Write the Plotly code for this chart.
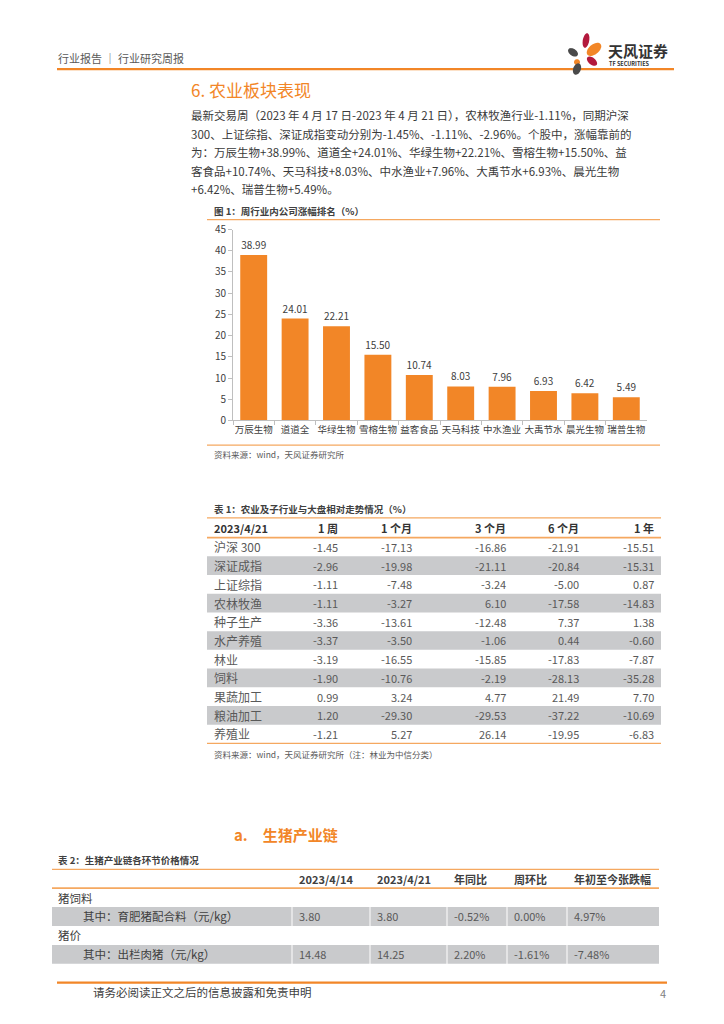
import plotly.graph_objects as go
import numpy as np

W, H = 724, 1024
ORANGE = "#F28627"
LINE_OR = "#F5A860"
GRAY_ROW = "#C9CACC"
FONT = "Noto Sans CJK SC"

def px(x):
    return x / W

def py(y):
    return 1 - y / H

# ---------------- data ----------------
companies = ["万辰生物", "道道全", "华绿生物", "雪榕生物", "益客食品",
             "天马科技", "中水渔业", "大禹节水", "晨光生物", "瑞普生物"]
gains = [38.99, 24.01, 22.21, 15.50, 10.74, 8.03, 7.96, 6.93, 6.42, 5.49]

t1_header = ["2023/4/21", "1 周", "1 个月", "3 个月", "6 个月", "1 年"]
t1_rows = ["沪深 300", "深证成指", "上证综指", "农林牧渔", "种子生产", "水产养殖",
           "林业", "饲料", "果蔬加工", "粮油加工", "养殖业"]
t1_week = [-1.45, -2.96, -1.11, -1.11, -3.36, -3.37, -3.19, -1.90, 0.99, 1.20, -1.21]
t1_m1 = [-17.13, -19.98, -7.48, -3.27, -13.61, -3.50, -16.55, -10.76, 3.24, -29.30, 5.27]
t1_m3 = [-16.86, -21.11, -3.24, 6.10, -12.48, -1.06, -15.85, -2.19, 4.77, -29.53, 26.14]
t1_m6 = [-21.91, -20.84, -5.00, -17.58, 7.37, 0.44, -17.83, -28.13, 21.49, -37.22, -19.95]
t1_y1 = [-15.51, -15.31, 0.87, -14.83, 1.38, -0.60, -7.87, -35.28, 7.70, -10.69, -6.83]

t2_header = ["", "2023/4/14", "2023/4/21", "年同比", "周环比", "年初至今张跌幅"]
t2_rows = ["猪饲料", "其中：育肥猪配合料（元/kg）", "猪价", "其中：出栏肉猪（元/kg）"]
t2_indent = [False, True, False, True]
t2_p0414 = [None, 3.80, None, 14.48]
t2_p0421 = [None, 3.80, None, 14.25]
t2_yoy = [None, -0.52, None, 2.20]
t2_wow = [None, 0.00, None, -1.61]
t2_ytd = [None, 4.97, None, -7.48]

paragraph = [
    "最新交易周（2023 年 4 月 17 日-2023 年 4 月 21 日），农林牧渔行业-1.11%，同期沪深",
    "300、上证综指、深证成指变动分别为-1.45%、-1.11%、-2.96%。个股中，涨幅靠前的",
    "为：万辰生物+38.99%、道道全+24.01%、华绿生物+22.21%、雪榕生物+15.50%、益",
    "客食品+10.74%、天马科技+8.03%、中水渔业+7.96%、大禹节水+6.93%、晨光生物",
    "+6.42%、瑞普生物+5.49%。",
]

def fmt(v, pct=False):
    if v is None:
        return ""
    return f"{v:.2f}%" if pct else f"{v:.2f}"

# ---------------- figure ----------------
fig = go.Figure()

fig.add_trace(go.Bar(
    x=companies, y=gains,
    marker=dict(color=ORANGE, line=dict(width=0)),
    text=[f"{v:.2f}" for v in gains],
    textposition="outside",
    textfont=dict(size=10, color="#404040", family=FONT),
    cliponaxis=False,
    hoverinfo="skip",
))

shapes = []
annotations = []

def hline(y, x0, x1, color=LINE_OR, width=1.3):
    shapes.append(dict(type="line", xref="paper", yref="paper",
                       x0=px(x0), x1=px(x1), y0=py(y), y1=py(y),
                       line=dict(color=color, width=width)))

def rect(x0, x1, y0, y1, color):
    shapes.append(dict(type="rect", xref="paper", yref="paper", layer="below",
                       x0=px(x0), x1=px(x1), y0=py(y0), y1=py(y1),
                       fillcolor=color, line=dict(width=0)))

def txt(x, y, s, size, color="#404040", bold=False, anchor="left"):
    annotations.append(dict(
        xref="paper", yref="paper", x=px(x), y=py(y),
        text=f"<b>{s}</b>" if bold else s, showarrow=False,
        xanchor=anchor, yanchor="middle", borderpad=0,
        font=dict(size=size, color=color, family=FONT),
    ))

# ---------- Table 1 (built from the lists) ----------
T1_X0, T1_X1 = 207, 661
T1_TOP, T1_HEAD_H, T1_ROW_H = 517, 20, 19
t1_label_x = 213
t1_col_right = [339, 413, 507, 580, 655]
t1_cols = [t1_week, t1_m1, t1_m3, t1_m6, t1_y1]

head_y = T1_TOP + T1_HEAD_H / 2
txt(t1_label_x, head_y, t1_header[0], 11, "#333333", bold=True)
for h, xr in zip(t1_header[1:], t1_col_right):
    txt(xr, head_y, h, 11, "#333333", bold=True, anchor="right")

body_top = T1_TOP + T1_HEAD_H
for i, name in enumerate(t1_rows):
    y0 = body_top + i * T1_ROW_H
    if i % 2 == 1:
        rect(T1_X0, T1_X1, y0, y0 + T1_ROW_H, GRAY_ROW)
    yc = y0 + T1_ROW_H / 2
    txt(t1_label_x, yc, name, 12, "#595959")
    for col, xr in zip(t1_cols, t1_col_right):
        txt(xr, yc, fmt(col[i]), 11, "#595959", anchor="right")
t1_bottom = body_top + len(t1_rows) * T1_ROW_H

# ---------- Table 2 ----------
T2_X0, T2_X1 = 52, 659
T2_TOP, T2_HEAD_H, T2_ROW_H = 874, 19, 19.25
t2_col_edges = [T2_X0, 292, 370, 447, 507, 567, T2_X1]
t2_cols = [[fmt(v) for v in t2_p0414], [fmt(v) for v in t2_p0421],
           [fmt(v, True) for v in t2_yoy], [fmt(v, True) for v in t2_wow],
           [fmt(v, True) for v in t2_ytd]]

head2_y = T2_TOP + T2_HEAD_H / 2
for j, h in enumerate(t2_header):
    if h:
        txt(t2_col_edges[j] + 6, head2_y, h, 11, "#404040", bold=True)

body2_top = T2_TOP + T2_HEAD_H
for i, (name, ind) in enumerate(zip(t2_rows, t2_indent)):
    y0 = body2_top + i * T2_ROW_H
    yc = y0 + T2_ROW_H / 2
    if ind:
        for j in range(len(t2_col_edges) - 1):
            rect(t2_col_edges[j] + (0.5 if j else 0),
                 t2_col_edges[j + 1] - (0.5 if j < len(t2_col_edges) - 2 else 0),
                 y0, y0 + T2_ROW_H, GRAY_ROW)
    txt(82 if ind else 57, yc, name, 11.5, "#404040")
    for j, col in enumerate(t2_cols):
        txt(t2_col_edges[j + 1] + 6, yc, col[i], 11, "#595959")

# ---------------- rules ----------------
hline(61, 57, 674, ORANGE, 2.2)       # page header
hline(214, 207, 660)                  # chart top
hline(443, 207, 660)                  # chart bottom
hline(T1_TOP, T1_X0, T1_X1)           # table1 top
hline(body_top, T1_X0, T1_X1, LINE_OR, 1.8)
hline(t1_bottom, T1_X0, T1_X1)        # table1 bottom
hline(T2_TOP, T2_X0, T2_X1)           # table2 top
hline(body2_top, T2_X0, T2_X1, LINE_OR, 1.8)
hline(989, 57, 667, ORANGE, 2.2)      # footer

# ---------------- logo ----------------
def petal(cx, cy, a, b, ang, color):
    t = np.linspace(0, 2 * np.pi, 40)
    c, s = np.cos(np.radians(ang)), np.sin(np.radians(ang))
    xs = cx + a * np.cos(t) * c - b * np.sin(t) * s
    ys = cy + a * np.cos(t) * s + b * np.sin(t) * c
    path = "M " + " L ".join(f"{px(x):.5f},{py(y):.5f}" for x, y in zip(xs, ys)) + " Z"
    shapes.append(dict(type="path", xref="paper", yref="paper", path=path,
                       fillcolor=color, line=dict(width=0)))

petal(586, 32, 3.2, 7.5, 10, "#B3193D")
petal(594, 41, 8.5, 5.0, -40, "#F28627")
petal(573, 44, 5.5, 3.5, 35, "#4A4A4A")
petal(577, 54, 3.0, 3.0, 0, "#F28627")
petal(592, 53, 6.0, 3.5, 40, "#B3193D")
petal(577, 61, 3.8, 6.0, 20, "#4A4A4A")

# ---------------- texts ----------------
txt(57, 50, "行业报告 │ 行业研究周报", 11, "#595959")
txt(607, 42, "天风证券", 15, "#333333", bold=True)
txt(608, 56, "TF SECURITIES", 5.5, "#333333", bold=True)
txt(190, 82, "6. 农业板块表现", 17, ORANGE)

for i, line in enumerate(paragraph):
    txt(190, 108 + i * 18.8, line, 11.5, "#3a3a3a")

txt(213, 205, "图 1：周行业内公司涨幅排名（%）", 9.5, "#404040", bold=True)
txt(213, 452, "资料来源：wind，天风证券研究所", 8.5, "#595959")
txt(213, 508, "表 1：农业及子行业与大盘相对走势情况（%）", 9.5, "#404040", bold=True)
txt(213, t1_bottom + 11, "资料来源：wind，天风证券研究所（注：林业为中信分类）", 8.5, "#595959")
txt(233, 839, "<b>a.</b>\u2003<b>生猪产业链</b>", 15, ORANGE)
txt(57, 864, "表 2：生猪产业链各环节价格情况", 9.5, "#404040", bold=True)
txt(92, 999, "请务必阅读正文之后的信息披露和免责申明", 11.5, "#404040")
txt(667, 1000, "4", 11, "#808080", anchor="right")

fig.update_layout(
    width=W, height=H,
    margin=dict(l=0, r=0, t=0, b=0),
    paper_bgcolor="white", plot_bgcolor="white",
    showlegend=False,
    bargap=0.35,
    font=dict(family=FONT, color="#404040"),
    shapes=shapes,
    annotations=annotations,
    xaxis=dict(
        domain=[px(233), px(647)],
        showline=True, linecolor="#BFBFBF", linewidth=1,
        ticks="outside", tickson="boundaries", ticklen=4, tickcolor="#BFBFBF",
        tickangle=0,
        tickfont=dict(size=9.5, color="#404040", family=FONT),
        showgrid=False, fixedrange=True,
    ),
    yaxis=dict(
        domain=[py(418), py(224)],
        range=[0, 45], dtick=5,
        showline=True, linecolor="#BFBFBF", linewidth=1,
        ticks="outside", ticklen=4, tickcolor="#BFBFBF",
        tickfont=dict(size=10, color="#404040", family=FONT),
        showgrid=False, zeroline=False, fixedrange=True,
    ),
)

fig.write_html("out.html", config={"displayModeBar": False},
               post_script="document.body.style.margin='0';")
